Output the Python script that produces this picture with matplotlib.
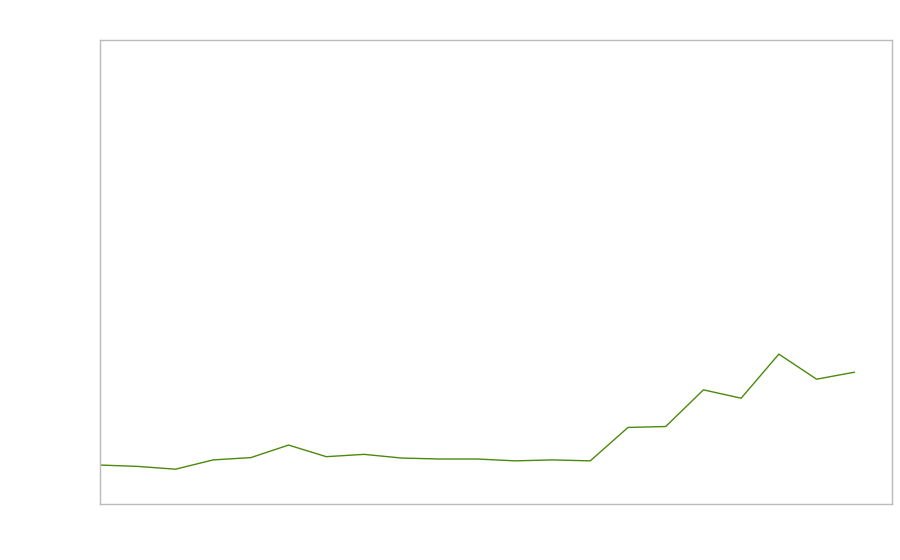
import matplotlib
matplotlib.use("Agg")
import matplotlib.pyplot as plt

x_index = list(range(21))
values = [8.4, 8.1, 7.5, 9.5, 10.0, 12.7, 10.2, 10.7, 9.9, 9.7, 9.7, 9.3, 9.5, 9.3,
          16.5, 16.7, 24.6, 22.8, 32.3, 26.9, 28.4]

fig = plt.figure(figsize=(9, 5.6), dpi=100)
ax = fig.add_axes([100/900, 56/560, 792/900, 464/560])
ax.plot(x_index, values, color="#4b8a0c", linewidth=1.0)
ax.set_xlim(0, 21)
ax.set_ylim(0, 100)
ax.set_xticks([])
ax.set_yticks([])
for s in ax.spines.values():
    s.set_color("#bbbbbb")
    s.set_linewidth(1.0)
fig.savefig("out.png", dpi=100)
